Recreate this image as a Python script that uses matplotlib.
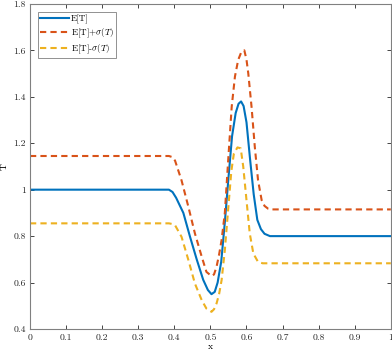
import matplotlib
matplotlib.use("Agg")
import matplotlib.pyplot as plt

# ── data ─────────────────────────────────────────────────────
mean_x = [0, 0.385, 0.395, 0.405, 0.425, 0.443, 0.462, 0.480, 0.493, 0.503,
          0.512, 0.520, 0.530, 0.540, 0.550, 0.560, 0.570, 0.578, 0.585, 0.592,
          0.600, 0.610, 0.620, 0.630, 0.640, 0.650, 0.665, 1.0]
mean_y = [1.0, 1.0, 0.99, 0.965, 0.90, 0.80, 0.70, 0.612, 0.568, 0.550,
          0.56, 0.60, 0.69, 0.86, 1.05, 1.23, 1.33, 1.37, 1.38, 1.36,
          1.29, 1.13, 0.98, 0.87, 0.83, 0.81, 0.80, 0.80]

up_x = [0, 0.385, 0.395, 0.402, 0.420, 0.439, 0.457, 0.476, 0.489, 0.503,
        0.510, 0.517, 0.524, 0.531, 0.540, 0.549, 0.559, 0.568, 0.577, 0.585,
        0.594, 0.600, 0.605, 0.614, 0.623, 0.632, 0.642, 0.650, 0.660, 0.670, 1.0]
up_y = [1.145, 1.145, 1.14, 1.125, 1.04, 0.926, 0.812, 0.711, 0.646, 0.628,
        0.635, 0.668, 0.72, 0.783, 0.90, 1.12, 1.357, 1.487, 1.559, 1.59,
        1.60, 1.56, 1.50, 1.357, 1.185, 1.041, 0.955, 0.93, 0.918, 0.915, 0.915]

lo_x = [0, 0.385, 0.395, 0.402, 0.420, 0.439, 0.457, 0.476, 0.489, 0.503,
        0.510, 0.517, 0.524, 0.531, 0.540, 0.550, 0.558, 0.565, 0.575, 0.584,
        0.591, 0.600, 0.609, 0.619, 0.632, 0.645, 1.0]
lo_y = [0.855, 0.855, 0.852, 0.847, 0.797, 0.697, 0.596, 0.524, 0.488, 0.474,
        0.485, 0.51, 0.55, 0.61, 0.74, 0.93, 1.08, 1.155, 1.182, 1.178,
        1.099, 0.955, 0.812, 0.725, 0.689, 0.683, 0.683]

x_ticks = [0, 0.1, 0.2, 0.3, 0.4, 0.5, 0.6, 0.7, 0.8, 0.9, 1]
x_labels = ["0", "0.1", "0.2", "0.3", "0.4", "0.5", "0.6", "0.7", "0.8", "0.9", "1"]
y_ticks = [0.4, 0.6, 0.8, 1.0, 1.2, 1.4, 1.6, 1.8]
y_labels = ["0.4", "0.6", "0.8", "1", "1.2", "1.4", "1.6", "1.8"]

# ── style (MATLAB-ish, LaTeX fonts) ──────────────────────────
plt.rcParams.update({
    "font.family": "serif",
    "font.serif": ["cmr10"],
    "mathtext.fontset": "cm",
    "axes.formatter.use_mathtext": True,
    "font.size": 7,
})
axis_col = "#262626"

fig = plt.figure(figsize=(3.92, 3.54), dpi=100)
ax = fig.add_axes([0.0765, 0.0706, 0.9205, 0.9184])

ax.plot(mean_x, mean_y, color="#0072BD", lw=1.5, label="E[T]")
ax.plot(up_x, up_y, color="#D95319", lw=1.5, ls=(0, (3, 2)),
        label=r"E[T]+$\sigma(T)$")
ax.plot(lo_x, lo_y, color="#EDB120", lw=1.5, ls=(0, (3, 2)),
        label=r"E[T]-$\sigma(T)$")

ax.set_xlim(0, 1)
ax.set_ylim(0.4, 1.8)
ax.set_xticks(x_ticks)
ax.set_xticklabels(x_labels)
ax.set_yticks(y_ticks)
ax.set_yticklabels(y_labels)
ax.tick_params(direction="in", top=True, right=True, length=3,
               width=0.6, colors=axis_col, pad=3)
for s in ax.spines.values():
    s.set_color("#808080")
    s.set_linewidth(0.8)

ax.set_xlabel("x", labelpad=1)
ax.set_ylabel("T")
ax.yaxis.set_label_coords(-0.058, 0.5)

leg = ax.legend(loc="upper left", bbox_to_anchor=(0.022, 0.975),
                prop={"size": 6.5},
                handlelength=3.2, handletextpad=0.2, borderpad=0.25,
                labelspacing=0.3, fancybox=False, framealpha=1,
                edgecolor="#808080", borderaxespad=0.0)
leg.get_frame().set_linewidth(0.6)

fig.savefig("out.png", dpi=100)
